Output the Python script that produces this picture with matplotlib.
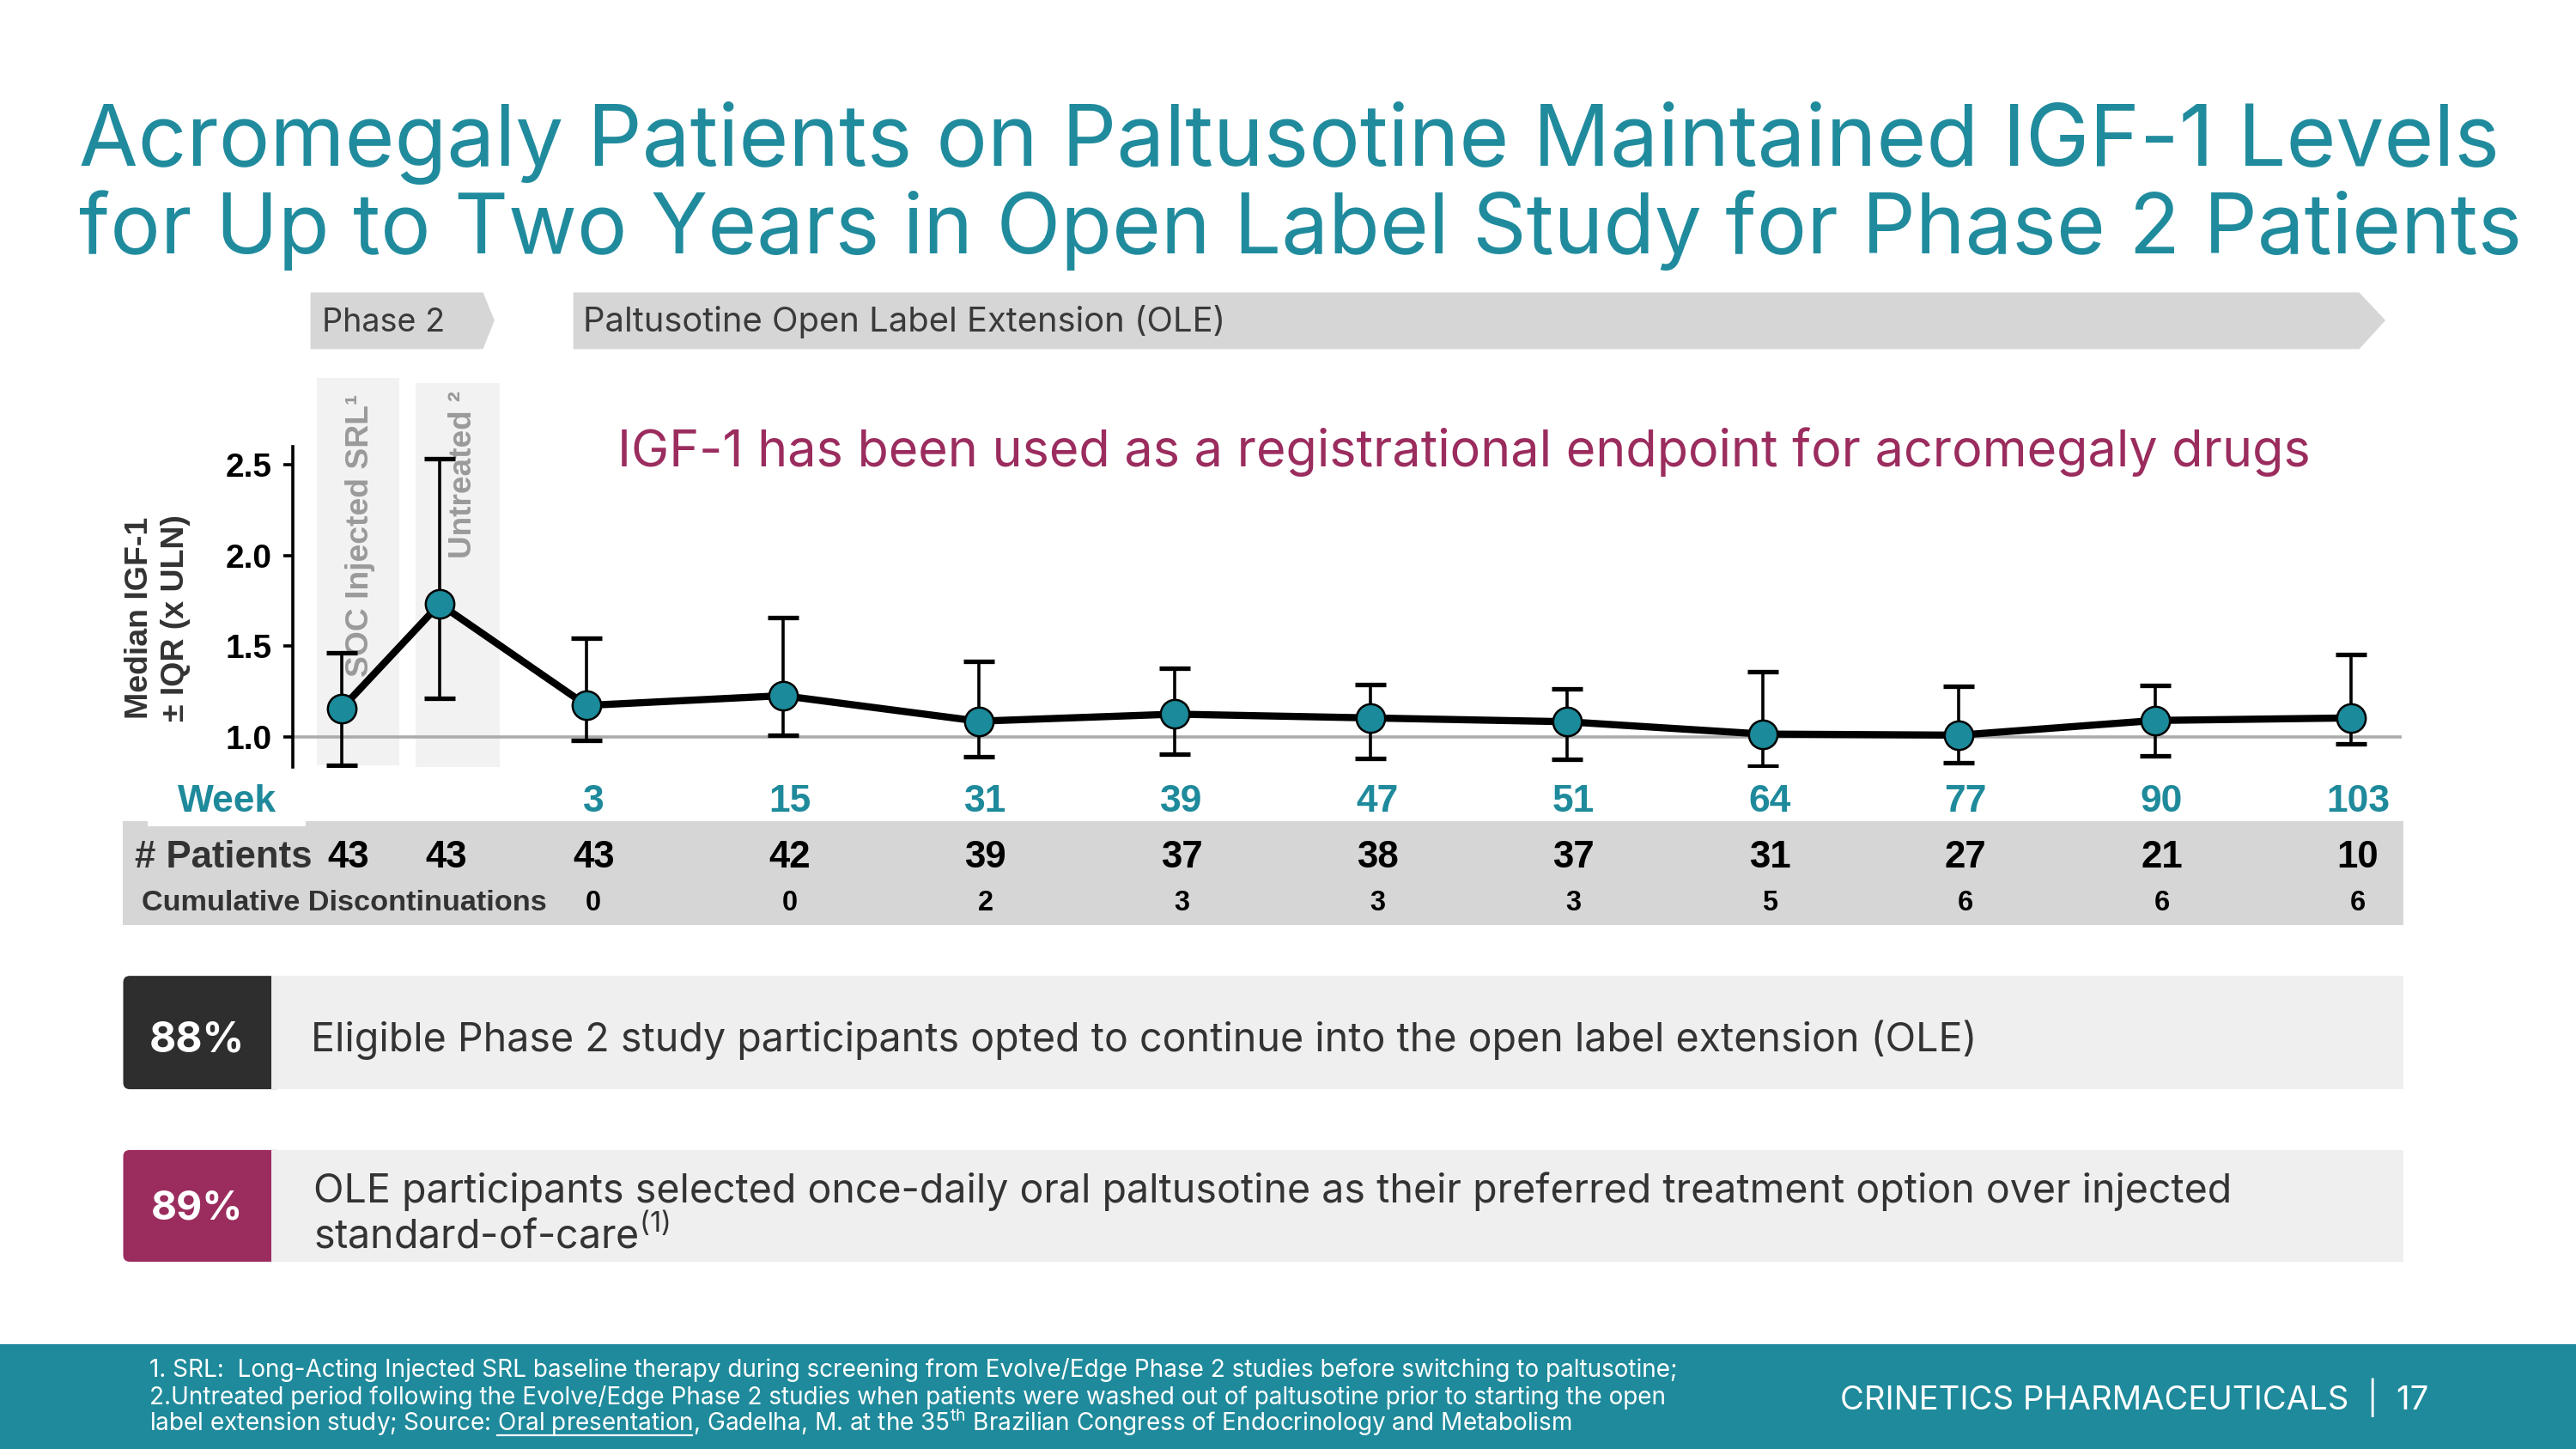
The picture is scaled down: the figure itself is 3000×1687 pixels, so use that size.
import numpy as np
import matplotlib
matplotlib.use("Agg")
import matplotlib.pyplot as plt
from matplotlib.patches import Polygon, Rectangle, FancyBboxPatch
from matplotlib.transforms import Affine2D, blended_transform_factory
from matplotlib.lines import Line2D

# ---------------- data ----------------
period_labels = ["SOC Injected SRL\u00b9", "Untreated \u00b2"]
weeks = [3, 15, 31, 39, 47, 51, 64, 77, 90, 103]
median = [1.155, 1.732, 1.172, 1.226, 1.085, 1.124, 1.103, 1.082, 1.014, 1.008, 1.089, 1.103]
iqr_low = [0.842, 1.212, 0.978, 1.009, 0.890, 0.903, 0.881, 0.875, 0.837, 0.854, 0.892, 0.962]
iqr_high = [1.462, 2.534, 1.545, 1.657, 1.415, 1.378, 1.285, 1.263, 1.360, 1.277, 1.284, 1.451]
n_patients = [43, 43, 43, 42, 39, 37, 38, 37, 31, 27, 21, 10]
cum_disc = [0, 0, 2, 3, 3, 3, 5, 6, 6, 6]
yticks = [1.0, 1.5, 2.0, 2.5]
ytick_labels = ["1.0", "1.5", "2.0", "2.5"]
uln_ref = 1.0

title_lines = ["Acromegaly Patients on Paltusotine Maintained IGF-1 Levels",
               "for Up to Two Years in Open Label Study for Phase 2 Patients"]
phase_labels = ["Phase 2", "Paltusotine Open Label Extension (OLE)"]
callout = "IGF-1 has been used as a registrational endpoint for acromegaly drugs"
stat1_value, stat1_text = "88%", "Eligible Phase 2 study participants opted to continue into the open label extension (OLE)"
stat2_value = "89%"
stat2_lines = ["OLE participants selected once-daily oral paltusotine as their preferred treatment option over injected",
               "standard-of-care$^{\\mathrm{(1)}}$"]
foot_lines = ["1. SRL:  Long-Acting Injected SRL baseline therapy during screening from Evolve/Edge Phase 2 studies before switching to paltusotine;",
              "2.Untreated period following the Evolve/Edge Phase 2 studies when patients were washed out of paltusotine prior to starting the open",
              "label extension study; Source: Oral presentation, Gadelha, M. at the 35$^{\\mathrm{th}}$ Brazilian Congress of Endocrinology and Metabolism"]
foot_link_pre = "label extension study; Source:"
foot_link = "label extension study; Source: Oral presentation"
brand = "CRINETICS PHARMACEUTICALS  |  17"

# ---------------- style ----------------
MAIN = "Inter"
ARIAL = "Liberation Sans"
TEAL = "#208b9d"
TEAL_F = "#1e8a9b"
MAG = "#9b2c5e"
plt.rcParams["mathtext.fontset"] = "custom"
plt.rcParams["mathtext.rm"] = MAIN
plt.rcParams["mathtext.it"] = MAIN + ":italic"
plt.rcParams["mathtext.bf"] = MAIN + ":bold"

W0, H0 = 1568, 882
fig = plt.figure(figsize=(30, 16.87), dpi=100)
fig.patch.set_facecolor("white")
T = Affine2D().scale(1 / W0, -1 / H0).translate(0, 1) + fig.transFigure
S = 3000 / W0
R = fig.canvas.get_renderer()


def ftext(x, y, s, size, target=None, axis="w", **kw):
    t = fig.text(x, y, s, transform=T, fontsize=size, **kw)
    if target:
        bb = t.get_window_extent(R)
        cur = bb.width if axis == "w" else bb.height
        t.set_fontsize(size * target * S / cur)
    return t


def width_of(s, size, **kw):
    t = fig.text(0, 0, s, fontsize=size, **kw)
    w = t.get_window_extent(R).width / S
    t.remove()
    return w


# ---------------- title ----------------
for line, base, tw in zip(title_lines, [101, 154], [1474, 1487]):
    ftext(48, base, line, 60, target=tw, color=TEAL, va="baseline", family=MAIN)

# ---------------- phase chevrons ----------------
fig.add_artist(Polygon([(189, 178), (294, 178), (301, 195), (294, 212.5), (189, 212.5)],
                       closed=True, transform=T, facecolor="#d6d6d6", edgecolor="none"))
fig.add_artist(Polygon([(349, 178), (1436, 178), (1452, 195), (1436, 212.5), (349, 212.5)],
                       closed=True, transform=T, facecolor="#d6d6d6", edgecolor="none"))
ftext(196, 202, phase_labels[0], 20, target=75, color="#3a3a3a", va="baseline", family=MAIN)
ftext(355, 202, phase_labels[1], 20, target=391, color="#3a3a3a", va="baseline", family=MAIN)

# ---------------- callout ----------------
ftext(376, 284, callout, 40, target=1029, color=MAG, va="baseline", family=MAIN)

# ---------------- period bands ----------------
fig.add_artist(Rectangle((193, 230), 50, 236, transform=T, facecolor="#f2f2f2",
                         edgecolor="none", zorder=-2))
fig.add_artist(Rectangle((253, 233), 51, 234, transform=T, facecolor="#f2f2f2",
                         edgecolor="none", zorder=-2))
ftext(219, 240, period_labels[0], 24, target=172, axis="h", rotation=90, ha="center", va="top",
      color="#9a9a9a", fontweight="bold", family=ARIAL, zorder=-1)
ftext(282, 238, period_labels[1], 24, target=102, axis="h", rotation=90, ha="center", va="top",
      color="#9a9a9a", fontweight="bold", family=ARIAL, zorder=-1)

# ---------------- chart ----------------
ax = fig.add_axes([178 / W0, 1 - 467 / H0, (1462 - 178) / W0, (467 - 272) / H0])
ax.patch.set_alpha(0)
ax.set_xlim(-0.251, 10.51)
ax.set_ylim(0.831, 2.599)
x_pos = [0, 0.5] + [1.25 + i for i in range(len(weeks))]
med = np.array(median)
yerr = [med - np.array(iqr_low), np.array(iqr_high) - med]
ax.axhline(uln_ref, color="#ababab", lw=2.6, zorder=1)
ax.errorbar(x_pos, median, yerr=yerr, fmt="none", ecolor="black", elinewidth=2.6,
            capsize=13, capthick=3.8, zorder=2)
ax.plot(x_pos, median, color="black", lw=6, zorder=3, solid_joinstyle="round")
ax.plot(x_pos, median, ls="none", marker="o", ms=24, mfc="#1b8a9a", mec="black", mew=1.8, zorder=4)
for sp in ["top", "right", "bottom"]:
    ax.spines[sp].set_visible(False)
ax.spines["left"].set_linewidth(2.6)
ax.set_xticks([])
ax.set_yticks(yticks)
ax.set_yticklabels(ytick_labels, fontsize=28, fontweight="bold", family=ARIAL)
ax.tick_params(axis="y", length=8, width=2.6, pad=9)

# y label
ylab_size = 20
t = ftext(85, 376, "Median IGF-1", ylab_size, target=123, axis="h", rotation=90,
          ha="center", va="center", color="#333333", fontweight="bold", family=ARIAL)
ftext(107, 376, "\u00b1 IQR (x ULN)", t.get_fontsize(), rotation=90, ha="center", va="center",
      color="#333333", fontweight="bold", family=ARIAL)

# ---------------- table ----------------
fig.add_artist(Rectangle((75, 500), 1388, 63, transform=T, facecolor="#d6d6d6",
                         edgecolor="none", zorder=-2))
fig.add_artist(Rectangle((90, 499), 96, 4, transform=T, facecolor="white",
                         edgecolor="none", zorder=-1.5))
bl = blended_transform_factory(ax.transData, T)
tw = ftext(108, 494, "Week", 30, target=60, color=TEAL_F, va="baseline",
           fontweight="bold", family=ARIAL)
row_size = tw.get_fontsize()
tp = ftext(82, 528, "# Patients", 30, target=108, color="#333333", va="baseline",
           fontweight="bold", family=ARIAL)
tc = ftext(86, 554, "Cumulative Discontinuations", 22, target=246, color="#333333",
           va="baseline", fontweight="bold", family=ARIAL)
off = 0.035
for xp, wk in zip(x_pos[2:], weeks):
    ax.text(xp + off, 494, str(wk), transform=bl, ha="center", va="baseline", fontsize=row_size,
            fontweight="bold", family=ARIAL, color=TEAL_F, clip_on=False)
for xp, n in zip(x_pos, n_patients):
    ax.text(xp + off, 528, str(n), transform=bl, ha="center", va="baseline",
            fontsize=tp.get_fontsize(), fontweight="bold", family=ARIAL, color="black", clip_on=False)
for xp, c in zip(x_pos[2:], cum_disc):
    ax.text(xp + off, 554, str(c), transform=bl, ha="center", va="baseline",
            fontsize=tc.get_fontsize() * 0.95, fontweight="bold", family=ARIAL, color="black",
            clip_on=False)

# ---------------- stat boxes ----------------
for (y0, y1, col) in [(594, 663, "#2e2e2e"), (700, 768, MAG)]:
    fig.add_artist(FancyBboxPatch((75, y0), 97, y1 - y0, boxstyle="round,pad=0,rounding_size=4",
                                  transform=T, facecolor=col, edgecolor="none", zorder=1))
    fig.add_artist(Rectangle((165, y0), 1298, y1 - y0, transform=T, facecolor="#efefef",
                             edgecolor="none", zorder=1.1))
ftext(120, 640, stat1_value, 28, target=58, ha="center", va="baseline", color="white",
      fontweight="bold", family=MAIN)
ftext(120, 742, stat2_value, 28, target=56, ha="center", va="baseline", color="white",
      fontweight="bold", family=MAIN)
ftext(189, 640, stat1_text, 30, target=1014, va="baseline", color="#333333", family=MAIN)
t2 = ftext(191, 732, stat2_lines[0], 30, target=1167, va="baseline", color="#333333", family=MAIN)
ftext(191, 760, stat2_lines[1], t2.get_fontsize(), va="baseline", color="#333333", family=MAIN)

# ---------------- footer ----------------
fig.add_artist(Rectangle((0, 818), W0, 64, transform=T, facecolor=TEAL_F, edgecolor="none", zorder=1))
f1 = ftext(91, 838, foot_lines[0], 14, target=933, va="baseline", color="white", family=MAIN, zorder=2)
fs = f1.get_fontsize()
ftext(91, 855, foot_lines[1], fs, va="baseline", color="white", family=MAIN, zorder=2)
ftext(91, 871, foot_lines[2], fs, va="baseline", color="white", family=MAIN, zorder=2)
w_pre = width_of(foot_link_pre, fs, family=MAIN)
w_link = width_of(foot_link, fs, family=MAIN)
w_sp = width_of("a a", fs, family=MAIN) - width_of("aa", fs, family=MAIN)
fig.add_artist(Line2D([91 + w_pre + w_sp, 91 + w_link], [873.5, 873.5], transform=T,
                      color="white", lw=1.6, zorder=2))
ftext(1120, 858, brand, 22, target=358, va="baseline", color="white", family=MAIN, zorder=2)

fig.savefig("out.png", dpi=100)
